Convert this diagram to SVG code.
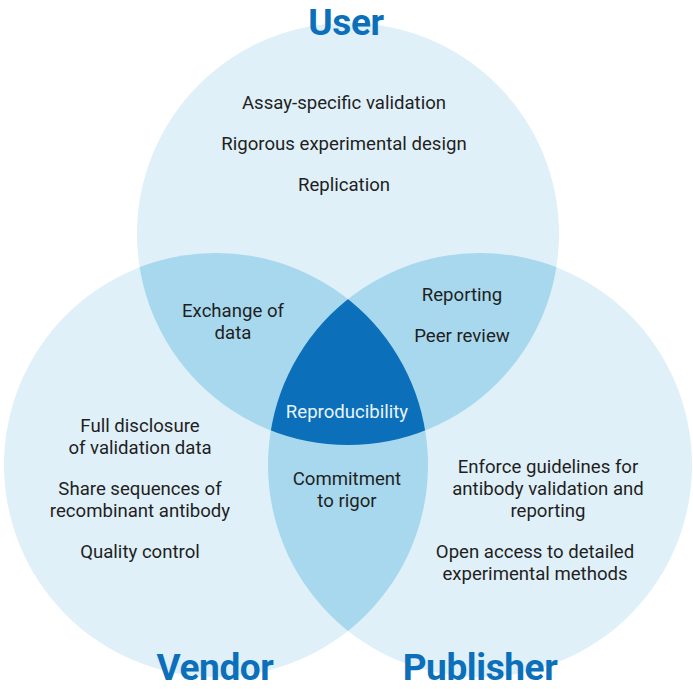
<svg xmlns="http://www.w3.org/2000/svg" width="693" height="689" viewBox="0 0 693 689">
  <style>
    .light { fill: #dff0f9; }
    .mid { fill: #a8d8ed; }
    .dark { fill: #0b6fba; }
    .t { font-family: Roboto, "Liberation Sans", sans-serif; font-size: 18.6px; fill: #1f1f1f; text-anchor: middle; }
    .inv { fill: #e8f4fb; }
    .title { font-family: Roboto, "Liberation Sans", sans-serif; font-size: 37px; font-weight: 700; fill: #0b6fba; text-anchor: middle; letter-spacing: -0.4px; }
  </style>
  <defs>
    <clipPath id="cU"><circle cx="348" cy="234" r="211"/></clipPath>
    <clipPath id="cV"><circle cx="216" cy="465" r="212"/></clipPath>
    <clipPath id="cP"><circle cx="480" cy="465" r="212"/></clipPath>
  </defs>
  <rect width="693" height="689" fill="#ffffff"/>

  <g id="user">
    <circle class="light" cx="348" cy="234" r="211"/>
  </g>
  <g id="vendor">
    <circle class="light" cx="216" cy="465" r="212"/>
  </g>
  <g id="publisher">
    <circle class="light" cx="480" cy="465" r="212"/>
  </g>
  <g id="user-vendor">
    <circle class="mid" cx="216" cy="465" r="212" clip-path="url(#cU)"/>
  </g>
  <g id="user-publisher">
    <circle class="mid" cx="480" cy="465" r="212" clip-path="url(#cU)"/>
  </g>
  <g id="vendor-publisher">
    <circle class="mid" cx="480" cy="465" r="212" clip-path="url(#cV)"/>
  </g>
  <g id="reproducibility">
    <g clip-path="url(#cU)">
      <circle class="dark" cx="480" cy="465" r="212" clip-path="url(#cV)"/>
    </g>
  </g>

  <g id="connectors"/>

  <g id="user-text">
    <text class="title" x="346" y="35">User</text>
    <text class="t" x="344" y="109">Assay-specific validation</text>
    <text class="t" x="344" y="150">Rigorous experimental design</text>
    <text class="t" x="344" y="191">Replication</text>
  </g>
  <g id="user-vendor-text">
    <text class="t" x="233" y="317">Exchange of</text>
    <text class="t" x="233" y="339">data</text>
  </g>
  <g id="user-publisher-text">
    <text class="t" x="462" y="301">Reporting</text>
    <text class="t" x="462" y="342">Peer review</text>
  </g>
  <g id="reproducibility-text">
    <text class="t inv" x="347" y="418">Reproducibility</text>
  </g>
  <g id="vendor-text">
    <text class="t" x="140" y="432">Full disclosure</text>
    <text class="t" x="140" y="454">of validation data</text>
    <text class="t" x="140" y="495">Share sequences of</text>
    <text class="t" x="140" y="517">recombinant antibody</text>
    <text class="t" x="140" y="558">Quality control</text>
    <text class="title" x="215" y="680">Vendor</text>
  </g>
  <g id="vendor-publisher-text">
    <text class="t" x="347" y="485">Commitment</text>
    <text class="t" x="347" y="507">to rigor</text>
  </g>
  <g id="publisher-text">
    <text class="t" x="548" y="473">Enforce guidelines for</text>
    <text class="t" x="548" y="495">antibody validation and</text>
    <text class="t" x="548" y="517">reporting</text>
    <text class="t" x="535" y="558">Open access to detailed</text>
    <text class="t" x="535" y="580">experimental methods</text>
    <text class="title" x="480" y="680">Publisher</text>
  </g>
</svg>
